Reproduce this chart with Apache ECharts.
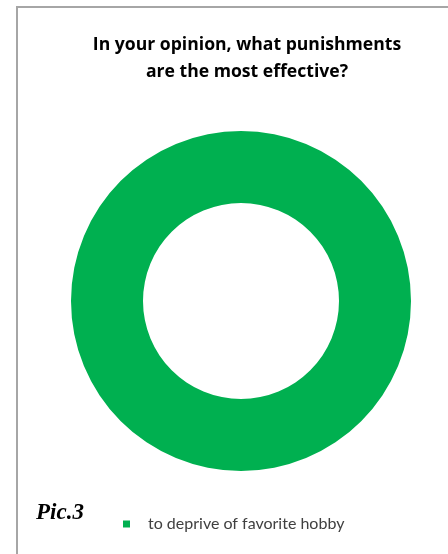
<!DOCTYPE html>
<html>
<head>
<meta charset="utf-8">
<script src="https://cdn.jsdelivr.net/npm/echarts@6/dist/echarts.min.js"></script>
<style>
html,body{margin:0;padding:0;background:#fff;}
#main{width:448px;height:554px;}
</style>
</head>
<body>
<div id="main"></div>
<script>
const titleText = 'In your opinion, what punishments\nare the most effective?';
const categories = ['to deprive of favorite hobby'];
const values = [100];
const colors = ['#00b050'];
const captionText = 'Pic.3';

const chart = echarts.init(document.getElementById('main'), null, {renderer: 'canvas'});
chart.setOption({
  animation: false,
  backgroundColor: '#ffffff',
  title: {
    text: titleText,
    left: 242,
    top: 26,
    textAlign: 'center',
    textStyle: {
      fontFamily: 'Open Sans',
      fontWeight: 'bold',
      fontSize: 17.6,
      lineHeight: 27,
      color: '#000000'
    }
  },
  legend: {
    data: categories,
    left: 123,
    top: 516,
    icon: 'rect',
    itemWidth: 7,
    itemHeight: 7,
    itemGap: 10,
    selectedMode: false,
    padding: 0,
    textStyle: {fontFamily: 'Lato', fontSize: 16, color: '#404040', padding: [0,0,0,13]}
  },
  graphic: [
    {
      type: 'rect',
      silent: true,
      shape: {x: 17, y: 7, width: 600, height: 700},
      style: {fill: 'none', stroke: '#a6a6a6', lineWidth: 2}
    },
    {
      type: 'text',
      left: 36,
      top: 502,
      style: {
        text: captionText,
        font: 'italic bold 23px "Liberation Serif"',
        fill: '#000000'
      }
    }
  ],
  series: [{
    type: 'pie',
    radius: [98, 170],
    center: [241, 301],
    startAngle: 90,
    label: {show: false},
    labelLine: {show: false},
    emphasis: {disabled: true},
    itemStyle: {borderWidth: 0},
    data: categories.map((c, i) => ({name: c, value: values[i], itemStyle: {color: colors[i]}}))
  }]
});
</script>
</body>
</html>
